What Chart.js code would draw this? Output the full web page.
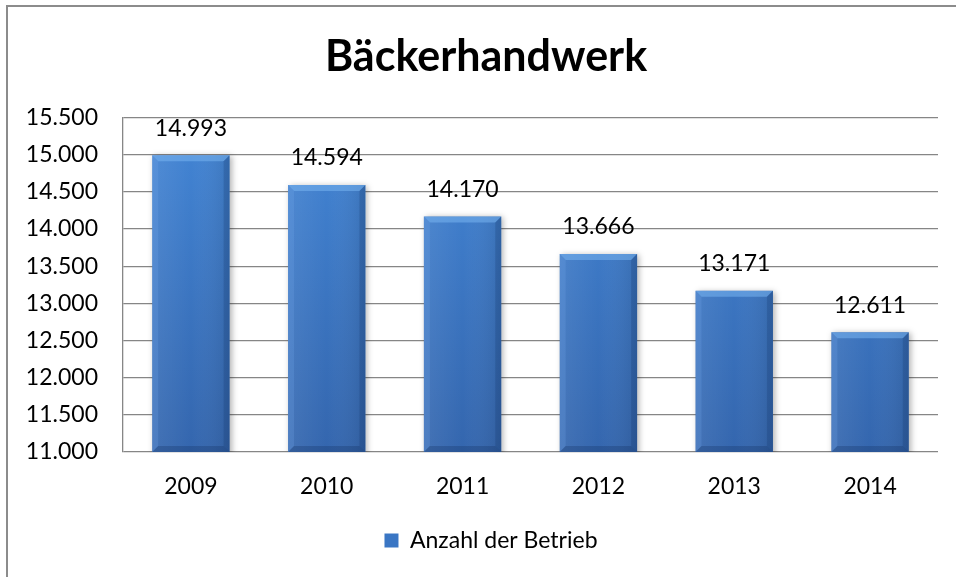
<!DOCTYPE html>
<html lang="de">
<head>
  <meta charset="UTF-8" />
  <title>Bäckerhandwerk</title>
  <script src="https://cdn.jsdelivr.net/npm/chart.js"></script>
  <style>
    html, body { margin: 0; padding: 0; background: #fff; overflow: hidden; }
    #frame {
      position: absolute; left: 6px; top: 5px; width: 1000px; height: 1000px;
      border: 2px solid #8c8c8c; box-sizing: border-box;
    }
    #wrap { position: absolute; left: 0; top: 0; width: 956px; height: 577px; }
  </style>
</head>
<body>
  <div id="frame"></div>
  <div id="wrap"><canvas id="chart" width="956" height="577"></canvas></div>

  <script>
    const years = ['2009', '2010', '2011', '2012', '2013', '2014'];
    const betriebe = [14993, 14594, 14170, 13666, 13171, 12611];
    const seriesName = 'Anzahl der Betrieb';
    const yMin = 11000, yMax = 15500, yStep = 500;

    const FONT = 'Lato, "Open Sans", sans-serif';
    const fmt = v => v.toLocaleString('de-DE');

    // Schatten hinter den Balken
    const shadowPlugin = {
      id: 'barShadow',
      beforeDatasetsDraw(chart) {
        const c = chart.ctx;
        c.save();
        c.shadowColor = 'rgba(0,0,0,0.3)';
        c.shadowBlur = 6;
        c.shadowOffsetX = 2;
        c.shadowOffsetY = 1;
      },
      afterDatasetsDraw(chart) {
        chart.ctx.restore();
      }
    };

    // Abschrägung + Werte über den Balken
    const bevelPlugin = {
      id: 'bevel',
      afterDatasetsDraw(chart) {
        const c = chart.ctx;
        const area = chart.chartArea;
        const meta = chart.getDatasetMeta(0);
        meta.data.forEach((bar, i) => {
          const w = bar.width, l = bar.x - w / 2, r = bar.x + w / 2;
          const t = bar.y, b = Math.min(bar.base, area.bottom), bv = 6;
          c.save();
          c.beginPath();
          c.rect(l, t, w, b - t);
          c.clip();
          // seitliche Schattierung
          const g = c.createLinearGradient(l, 0, r, 0);
          g.addColorStop(0, 'rgba(255,255,255,0.08)');
          g.addColorStop(0.5, 'rgba(255,255,255,0)');
          g.addColorStop(1, 'rgba(0,0,0,0.10)');
          c.fillStyle = g;
          c.fillRect(l, t, w, b - t);
          // obere Kante
          c.fillStyle = 'rgba(120,180,240,0.55)';
          c.beginPath();
          c.moveTo(l, t); c.lineTo(r, t); c.lineTo(r - bv, t + bv); c.lineTo(l + bv, t + bv);
          c.closePath(); c.fill();
          // linke Kante
          c.fillStyle = 'rgba(110,165,230,0.25)';
          c.beginPath();
          c.moveTo(l, t); c.lineTo(l + bv, t + bv); c.lineTo(l + bv, b - bv); c.lineTo(l, b);
          c.closePath(); c.fill();
          // rechte Kante
          c.fillStyle = 'rgba(20,50,100,0.22)';
          c.beginPath();
          c.moveTo(r, t); c.lineTo(r - bv, t + bv); c.lineTo(r - bv, b - bv); c.lineTo(r, b);
          c.closePath(); c.fill();
          // untere Kante
          c.fillStyle = 'rgba(20,50,100,0.30)';
          c.beginPath();
          c.moveTo(l, b); c.lineTo(l + bv, b - bv); c.lineTo(r - bv, b - bv); c.lineTo(r, b);
          c.closePath(); c.fill();
          c.restore();
          // Wert
          c.save();
          c.fillStyle = '#000';
          c.font = '23px ' + FONT;
          c.textAlign = 'center';
          c.textBaseline = 'middle';
          c.fillText(fmt(betriebe[i]), bar.x, t - 27);
          c.restore();
        });
      }
    };

    // Titel und Legende etwas nach rechts wie im Original
    const boxShift = {
      id: 'boxShift',
      afterLayout(chart) {
        const tb = chart.titleBlock, lg = chart.legend;
        if (tb) { tb.left += 17; tb.right += 17; }
        if (lg) { lg.left += 22; lg.right += 22; }
      }
    };

    new Chart(document.getElementById('chart'), {
      type: 'bar',
      data: {
        labels: years,
        datasets: [{
          label: seriesName,
          data: betriebe,
          backgroundColor(ctx) {
            const area = ctx.chart.chartArea;
            if (!area) return '#3a78c6';
            const g = ctx.chart.ctx.createLinearGradient(0, area.top, 0, area.bottom);
            g.addColorStop(0, '#4386d6');
            g.addColorStop(1, '#3466ae');
            return g;
          },
          borderWidth: 0,
          barPercentage: 0.57,
          categoryPercentage: 1
        }]
      },
      options: {
        responsive: false,
        animation: false,
        layout: { padding: { left: 0, right: 18, top: 0, bottom: 15 } },
        plugins: {
          title: {
            display: true,
            text: 'Bäckerhandwerk',
            color: '#000',
            font: { family: FONT, size: 43, weight: 'bold' },
            padding: { top: 31, bottom: 35 }
          },
          legend: {
            position: 'bottom',
            labels: {
              color: '#000',
              font: { family: FONT, size: 23 },
              boxWidth: 14,
              boxHeight: 14,
              padding: 10,
              generateLabels: () => [{
                text: seriesName, fillStyle: '#3a76c4', strokeStyle: '#3a76c4', lineWidth: 0
              }]
            }
          },
          tooltip: { enabled: false }
        },
        scales: {
          x: {
            grid: { display: false },
            border: { display: false },
            ticks: { color: '#000', font: { family: FONT, size: 23 }, padding: 13 },
            afterFit(scale) { scale.height = 67; }
          },
          y: {
            min: yMin,
            max: yMax,
            grid: { color: '#868686', lineWidth: 1.3, drawTicks: false },
            border: { display: true, color: '#868686', width: 1.3 },
            ticks: {
              stepSize: yStep,
              color: '#000',
              font: { family: FONT, size: 23 },
              padding: 25,
              callback: v => fmt(v)
            },
            afterFit(scale) { scale.width = 123; }
          }
        }
      },
      plugins: [shadowPlugin, bevelPlugin, boxShift]
    });
  </script>
</body>
</html>
